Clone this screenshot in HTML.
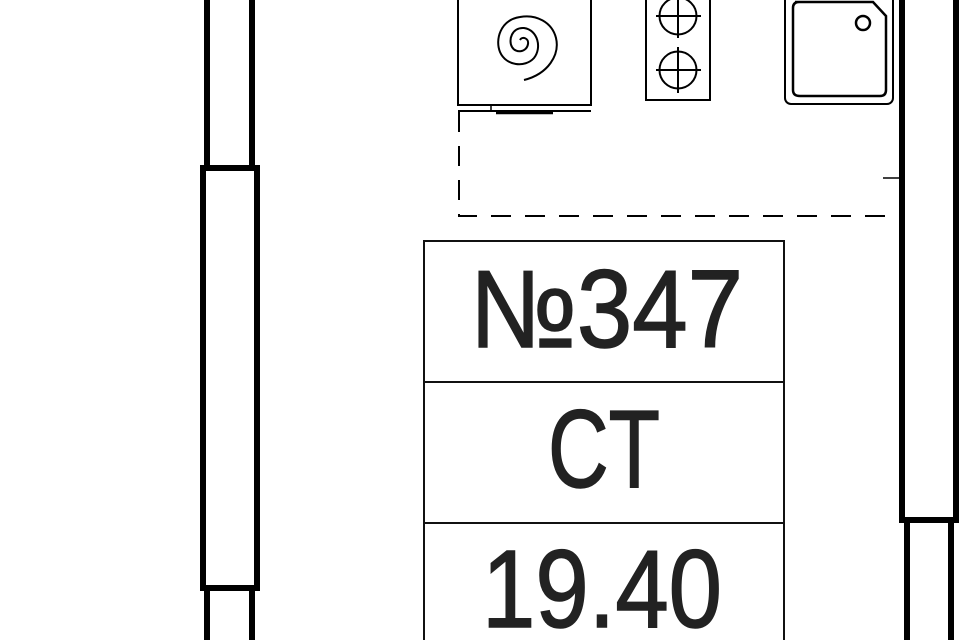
<!DOCTYPE html>
<html><head><meta charset="utf-8"><style>html,body{margin:0;padding:0;background:#fff;}svg{display:block}</style></head>
<body>
<svg width="960" height="640" viewBox="0 0 960 640" xmlns="http://www.w3.org/2000/svg">
<rect width="960" height="640" fill="#fff"/>
<g stroke="#000" fill="none">
<line x1="207" y1="0" x2="207" y2="168" stroke-width="6"/>
<line x1="252" y1="0" x2="252" y2="168" stroke-width="6"/>
<line x1="207" y1="590" x2="207" y2="640" stroke-width="6"/>
<line x1="252" y1="590" x2="252" y2="640" stroke-width="6"/>
<rect x="203" y="168" width="54" height="420" stroke-width="6"/>
<rect x="902" y="-10" width="54" height="530" stroke-width="6"/>
<line x1="907" y1="520" x2="907" y2="640" stroke-width="6"/>
<line x1="951" y1="520" x2="951" y2="640" stroke-width="6"/>
<path d="M459 112 V216 H899" stroke-width="2" stroke-dasharray="20 14"/>
<line x1="883" y1="178" x2="899" y2="178" stroke-width="1.5"/>
<rect x="458" y="-5" width="133" height="110" stroke-width="2"/>
<line x1="458" y1="111" x2="591" y2="111" stroke-width="2"/>
<line x1="491" y1="105" x2="491" y2="111" stroke-width="1.5"/>
<line x1="496" y1="113" x2="553" y2="113" stroke-width="2.5"/>
<path d="M524 80 C548 74 560 55 556 38 C552 22 536 14 520 17 C500 20 495 40 500 52 C506 66 525 68 534 58 C542 48 538 30 524 28 C512 27 508 40 512 47 C516 54 527 52 528 44 C529 38 522 36 520 40" stroke-width="2"/>
<rect x="646" y="-5" width="64" height="105" stroke-width="2"/>
<circle cx="678" cy="16" r="18.5" stroke-width="2"/>
<circle cx="678" cy="70" r="18.5" stroke-width="2"/>
<path d="M656 16H701M678 -5V38M656 70H701M678 47V93" stroke-width="2"/>
<rect x="785" y="-8" width="108" height="112" rx="6" stroke-width="2"/>
<path d="M795 2 H873 L886 16 V90 Q886 96 880 96 H800 Q793 96 793 90 V8 Q793 2 799 2Z" stroke-width="2.5"/>
<circle cx="863" cy="23" r="7" stroke-width="2.5"/>
<rect x="424" y="241" width="360" height="420" stroke="#111" stroke-width="2"/>
<line x1="424" y1="382" x2="784" y2="382" stroke="#111" stroke-width="2"/>
<line x1="424" y1="523" x2="784" y2="523" stroke="#111" stroke-width="2"/>
</g>
<g fill="#222" stroke="#222" stroke-width="1.5" font-family="'Liberation Sans', 'DejaVu Sans', sans-serif" font-size="110">
<text x="470" y="347" textLength="273" lengthAdjust="spacingAndGlyphs">№347</text>
<text x="548" y="487" textLength="112" lengthAdjust="spacingAndGlyphs">CT</text>
<text x="482" y="627" textLength="240" lengthAdjust="spacingAndGlyphs">19.40</text>
</g>
</svg>
</body></html>
